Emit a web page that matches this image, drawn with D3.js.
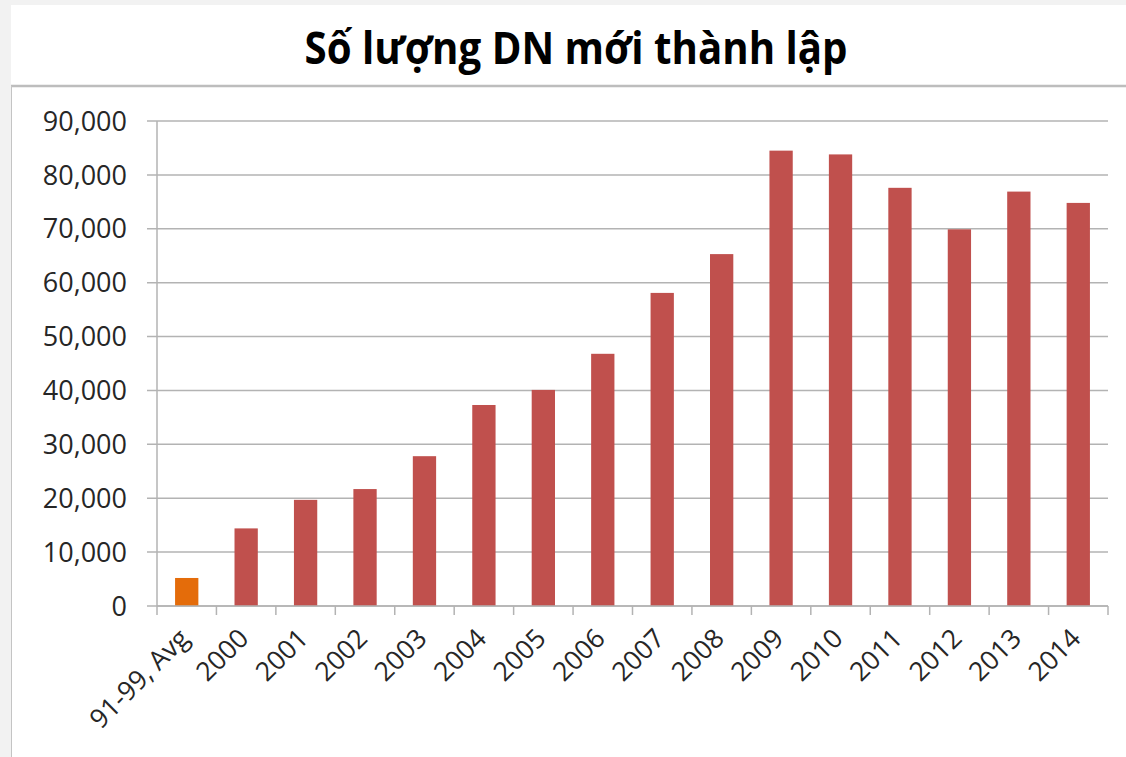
<!DOCTYPE html>
<html>
<head>
<meta charset="utf-8">
<script src="https://cdn.jsdelivr.net/npm/d3@7"></script>
<style>
  html, body { margin: 0; padding: 0; background: #f2f2f2; }
  svg { display: block; }
</style>
</head>
<body>
<div id="chart"></div>
<script>
const title = "Số lượng DN mới thành lập";
const categories = ["91-99, Avg", "2000", "2001", "2002", "2003", "2004", "2005", "2006",
  "2007", "2008", "2009", "2010", "2011", "2012", "2013", "2014"];
const values = [5200, 14400, 19700, 21700, 27800, 37300, 40100, 46800,
  58100, 65300, 84500, 83800, 77600, 69900, 76900, 74800];
const yTicks = [0, 10000, 20000, 30000, 40000, 50000, 60000, 70000, 80000, 90000];

const width = 1126;
const height = 757;
const margin = { top: 121, right: 18, bottom: 151, left: 157 };
const gridColor = "#b3b3b3";
const labelFont = "'Open Sans', 'DejaVu Sans', sans-serif";

const svg = d3.select("#chart")
  .append("svg")
  .attr("width", width)
  .attr("height", height);

// white panel + borders
svg.append("rect").attr("x", 11).attr("y", 5).attr("width", width - 11).attr("height", height - 5).attr("fill", "#fff");
svg.append("line").attr("x1", 11).attr("x2", width).attr("y1", 86).attr("y2", 86)
  .attr("stroke", "#bdbdbd").attr("stroke-width", 2.5);
svg.append("line").attr("x1", 11.5).attr("x2", 11.5).attr("y1", 86).attr("y2", height)
  .attr("stroke", "#c4c4c4").attr("stroke-width", 1);

svg.append("text")
  .attr("x", 576)
  .attr("y", 64)
  .attr("text-anchor", "middle")
  .attr("font-family", "'Open Sans', 'Noto Sans', sans-serif")
  .attr("font-weight", "bold")
  .attr("font-size", 45)
  .attr("textLength", 543)
  .attr("lengthAdjust", "spacingAndGlyphs")
  .attr("fill", "#000")
  .text(title);

const x = d3.scaleBand()
  .domain(categories)
  .range([margin.left, width - margin.right])
  .paddingInner(0.608)
  .paddingOuter(0.304);
const xb = d3.scaleBand()
  .domain(categories)
  .range([margin.left, width - margin.right]);
const y = d3.scaleLinear()
  .domain([0, 90000])
  .range([height - margin.bottom, margin.top]);

// gridlines
svg.append("g")
  .selectAll("line")
  .data(yTicks)
  .join("line")
  .attr("x1", margin.left - 10)
  .attr("x2", width - margin.right)
  .attr("y1", (d) => y(d))
  .attr("y2", (d) => y(d))
  .attr("stroke", gridColor)
  .attr("stroke-width", 1.5);

// y labels
svg.append("g")
  .selectAll("text")
  .data(yTicks)
  .join("text")
  .attr("x", margin.left - 30)
  .attr("y", (d) => y(d))
  .attr("dy", "0.36em")
  .attr("text-anchor", "end")
  .attr("font-family", labelFont)
  .attr("font-size", 27)
  .attr("fill", "#262626")
  .text(d3.format(","));

// y axis line
svg.append("line")
  .attr("x1", margin.left).attr("x2", margin.left)
  .attr("y1", y(90000)).attr("y2", y(0))
  .attr("stroke", gridColor).attr("stroke-width", 1.5);

// bars
svg.append("g")
  .selectAll("rect")
  .data(values)
  .join("rect")
  .attr("x", (d, i) => x(categories[i]))
  .attr("y", (d) => y(d))
  .attr("width", x.bandwidth())
  .attr("height", (d) => y(0) - y(d))
  .attr("fill", (d, i) => (i === 0 ? "#e46c0a" : "#c0504d"));

// x axis + ticks at category boundaries
svg.append("line")
  .attr("x1", margin.left).attr("x2", width - margin.right)
  .attr("y1", y(0)).attr("y2", y(0))
  .attr("stroke", gridColor).attr("stroke-width", 1.5);
const bounds = categories.map((c) => xb(c)).concat([width - margin.right]);
svg.append("g")
  .selectAll("line")
  .data(bounds)
  .join("line")
  .attr("x1", (d) => d).attr("x2", (d) => d)
  .attr("y1", y(0)).attr("y2", y(0) + 9)
  .attr("stroke", gridColor).attr("stroke-width", 1.5);

// x labels
svg.append("g")
  .selectAll("text")
  .data(categories)
  .join("text")
  .attr("transform", (d) => `translate(${x(d) + x.bandwidth() / 2 + 4},${y(0) + 34}) rotate(-45)`)
  .attr("text-anchor", "end")
  .attr("font-family", labelFont)
  .attr("font-size", 26.5)
  .attr("fill", "#262626")
  .text((d) => d);
</script>
</body>
</html>
